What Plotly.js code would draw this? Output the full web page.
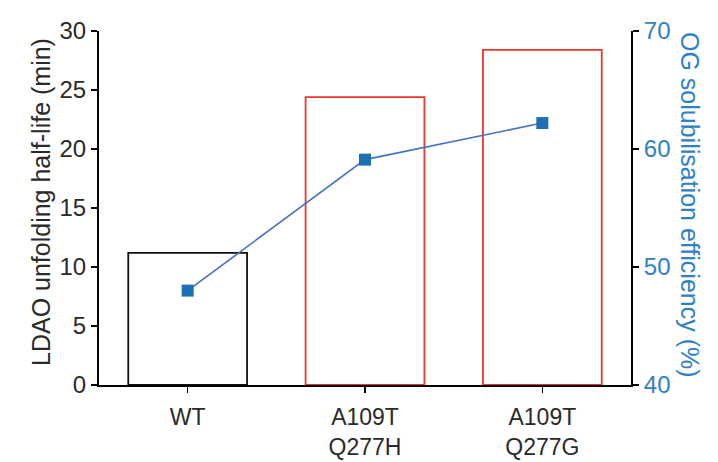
<!DOCTYPE html>
<html><head><meta charset="utf-8">
<script src="https://cdn.plot.ly/plotly-3.0.1.min.js"></script>
<style>html,body{margin:0;padding:0;background:#fff}</style>
</head><body>
<div id="chart" style="width:718px;height:462px"></div>
<script>
var categories = ["WT", "A109T<br>Q277H", "A109T<br>Q277G"];
var halfLife = [11.2, 24.4, 28.4];
var ogEfficiency = [48, 59.1, 62.2];
var barColors = ["#111111", "#e8392b", "#e8392b"];
var leftTicks = [0, 5, 10, 15, 20, 25, 30];
var rightTicks = [40, 50, 60, 70];

var fontFam = "Liberation Sans, Arial, sans-serif";
var traces = [
  {type: "bar", x: categories, y: halfLife, yaxis: "y",
   marker: {color: "rgba(0,0,0,0)", line: {color: barColors, width: 1.8}},
   hoverinfo: "none"},
  {type: "scatter", mode: "lines+markers", x: categories, y: ogEfficiency, yaxis: "y2",
   line: {color: "#4472c4", width: 1.6},
   marker: {symbol: "square", size: 12, color: "#1f6fb5"}}
];
var layout = {
  width: 718, height: 462,
  margin: {l: 99, r: 87, t: 31, b: 77},
  showlegend: false,
  paper_bgcolor: "#fff", plot_bgcolor: "#fff",
  bargap: 0.33,
  font: {family: fontFam, size: 24, color: "#2a2a2a"},
  xaxis: {range: [-0.5, 2.5], showline: true, linecolor: "#000", linewidth: 2,
    ticks: "outside", ticklen: 6, tickwidth: 1.5, tickcolor: "#000", ticklabelstandoff: 4,
    tickfont: {size: 23, color: "#2a2a2a"}, showgrid: false, zeroline: false, fixedrange: true},
  yaxis: {range: [0, 30], tickvals: leftTicks, showline: true, linecolor: "#000", linewidth: 2,
    ticks: "outside", ticklen: 6, tickwidth: 1.5, tickcolor: "#000",
    tickfont: {size: 24, color: "#2a2a2a"}, showgrid: false, zeroline: false},
  yaxis2: {range: [40, 70], tickvals: rightTicks, overlaying: "y", side: "right",
    showline: true, linecolor: "#000", linewidth: 2,
    ticks: "outside", ticklen: 6, tickwidth: 1.5, tickcolor: "#000",
    tickfont: {size: 24, color: "#2f80c4"}, showgrid: false, zeroline: false},
  annotations: [
    {text: "LDAO unfolding half-life (min)", textangle: -90,
     xref: "paper", yref: "paper", x: 0, xshift: -74, y: 0.5, yshift: 6, showarrow: false,
     font: {size: 25, color: "#2a2a2a"}},
    {text: "OG solubilisation efficiency (%)", textangle: 90,
     xref: "paper", yref: "paper", x: 1, xshift: 75, y: 0.5, yshift: 3, showarrow: false,
     font: {size: 25, color: "#2f80c4"}}]
};
Plotly.newPlot("chart", traces, layout, {displayModeBar: false, staticPlot: true});
</script>
</body></html>
